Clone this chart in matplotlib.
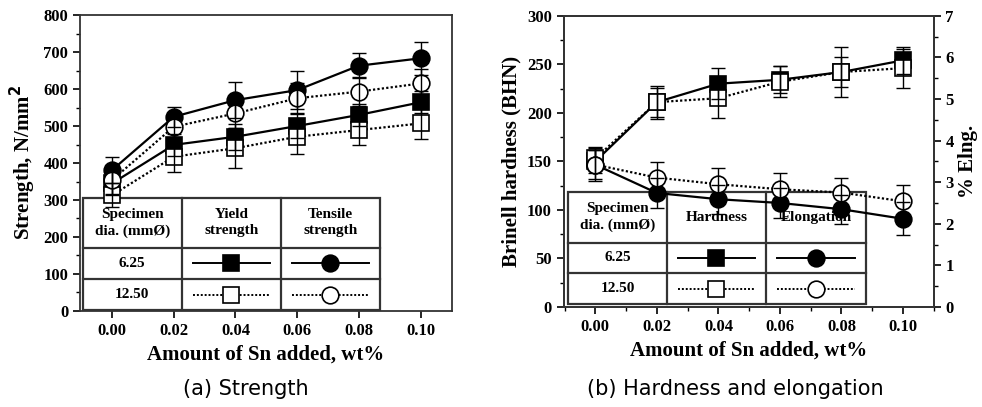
import matplotlib
matplotlib.use("Agg")
import matplotlib.pyplot as plt
import numpy as np
from matplotlib.lines import Line2D
from matplotlib.ticker import MultipleLocator

plt.rcParams['font.family'] = 'Liberation Serif'
plt.rcParams['font.weight'] = 'bold'

sn = [0.00, 0.02, 0.04, 0.06, 0.08, 0.10]

# (a) strength, N/mm2
ys_625 = [345, 449, 471, 500, 530, 564]
ys_625_err = [30, 30, 35, 32, 30, 30]
ys_1250 = [313, 417, 440, 471, 489, 507]
ys_1250_err = [33, 40, 54, 46, 40, 43]
ts_625 = [381, 525, 570, 597, 663, 683]
ts_625_err = [35, 27, 48, 52, 34, 45]
ts_1250 = [354, 498, 534, 575, 593, 615]
ts_1250_err = [40, 35, 40, 40, 40, 40]

# (b) hardness (BHN) and elongation (%)
hd_625 = [150, 211, 230, 234, 242, 254]
hd_625_err = [12, 15, 16, 14, 15, 14]
hd_1250 = [153, 211, 215, 232, 242, 246]
hd_1250_err = [12, 17, 20, 16, 26, 20]
el_625 = [3.42, 2.74, 2.59, 2.50, 2.35, 2.12]
el_625_err = [0.35, 0.35, 0.35, 0.35, 0.35, 0.40]
el_1250 = [3.42, 3.11, 2.95, 2.83, 2.75, 2.54]
el_1250_err = [0.40, 0.37, 0.38, 0.40, 0.35, 0.40]

fig = plt.figure(figsize=(9.82, 4.07), dpi=100)
ax1 = fig.add_axes([0.0815, 0.2359, 0.3788, 0.7272])
ax2 = fig.add_axes([0.574, 0.2457, 0.3768, 0.7157])
ax2r = ax2.twinx()

DOT = (0, (1, 1))
MS = 12


def series(ax, y, err, marker, filled, ls):
    fc = 'black' if filled else 'white'
    ax.plot(sn, y, color='black', lw=1.6, ls=ls, zorder=5)
    ax.plot(sn, y, ls='none', marker=marker, ms=MS, mfc=fc, mec='black', mew=1.2, zorder=6)
    ax.errorbar(sn, y, yerr=err, fmt='none', ecolor='black', elinewidth=1.0, capsize=5, capthick=1.0, zorder=7)


def table(ax, box, cols, rows, headers, sym):
    x0, x1, y0, y1 = box
    ax.add_patch(plt.Rectangle((x0, y0), x1 - x0, y1 - y0, transform=ax.transAxes,
                               facecolor='white', edgecolor='#333333', lw=1.6, zorder=3))
    for c in cols:
        ax.add_line(Line2D([c, c], [y0, y1], transform=ax.transAxes, color='#333333', lw=1.6, zorder=3))
    for r in rows:
        ax.add_line(Line2D([x0, x1], [r, r], transform=ax.transAxes, color='#333333', lw=1.6, zorder=3))
    xs = [x0] + cols + [x1]
    ys = [y1] + rows + [y0]
    for i, h in enumerate(headers):
        ax.text((xs[i] + xs[i + 1]) / 2, (ys[0] + ys[1]) / 2, h, transform=ax.transAxes,
                ha='center', va='center', fontsize=11, fontweight='bold', zorder=4, linespacing=1.3)
    for j, lab in enumerate(['6.25', '12.50']):
        yc = (ys[j + 1] + ys[j + 2]) / 2
        ax.text((xs[0] + xs[1]) / 2, yc, lab, transform=ax.transAxes,
                ha='center', va='center', fontsize=11, fontweight='bold', zorder=4)
        for k, m in enumerate(sym):
            xa, xb = xs[k + 1], xs[k + 2]
            w = xb - xa
            ls = '-' if j == 0 else DOT
            ax.add_line(Line2D([xa + 0.11 * w, xb - 0.11 * w], [yc, yc], transform=ax.transAxes,
                               color='black', lw=1.4, ls=ls, zorder=4))
            ax.add_line(Line2D([(xa + xb) / 2], [yc], transform=ax.transAxes, marker=m, ms=MS,
                               mfc='black' if j == 0 else 'white', mec='black', mew=1.2, zorder=4))


# panel (a)
table(ax1, (0.007, 0.806, 0.003, 0.382), [0.274, 0.540], [0.213, 0.108],
      ['Specimen\ndia. (mmØ)', 'Yield\nstrength', 'Tensile\nstrength'], ['s', 'o'])
series(ax1, ys_625, ys_625_err, 's', True, '-')
series(ax1, ys_1250, ys_1250_err, 's', False, DOT)
series(ax1, ts_625, ts_625_err, 'o', True, '-')
series(ax1, ts_1250, ts_1250_err, 'o', False, DOT)
ax1.set_xlim(-0.0104, 0.1102)
ax1.set_ylim(0, 800)
ax1.set_xticks(sn)
ax1.set_xticklabels(['%.2f' % v for v in sn])
ax1.yaxis.set_major_locator(MultipleLocator(100))
ax1.yaxis.set_minor_locator(MultipleLocator(50))
ax1.set_ylabel('Strength, N/mm$^\\mathbf{2}$', fontsize=15, fontweight='bold', labelpad=4)
ax1.set_xlabel('Amount of Sn added, wt%', fontsize=15, fontweight='bold', labelpad=4)

# panel (b)
table(ax2, (0.012, 0.817, 0.010, 0.396), [0.279, 0.547], [0.221, 0.116],
      ['Specimen\ndia. (mmØ)', 'Hardness', 'Elongation'], ['s', 'o'])
series(ax2, hd_625, hd_625_err, 's', True, '-')
series(ax2, hd_1250, hd_1250_err, 's', False, DOT)
ax2r.set_zorder(ax2.get_zorder() + 1)
ax2r.patch.set_visible(False)
series(ax2r, el_625, el_625_err, 'o', True, '-')
series(ax2r, el_1250, el_1250_err, 'o', False, DOT)
ax2.set_xlim(-0.0103, 0.110)
ax2.set_ylim(0, 300)
ax2r.set_ylim(0, 7)
ax2.set_xticks(sn)
ax2.set_xticklabels(['%.2f' % v for v in sn])
ax2.xaxis.set_minor_locator(MultipleLocator(0.01))
ax2.yaxis.set_major_locator(MultipleLocator(50))
ax2.yaxis.set_minor_locator(MultipleLocator(25))
ax2r.yaxis.set_major_locator(MultipleLocator(1))
ax2r.yaxis.set_minor_locator(MultipleLocator(0.5))
ax2.set_ylabel('Brinell hardness (BHN)', fontsize=15, fontweight='bold', labelpad=4)
ax2r.set_ylabel('% Elng.', fontsize=15, fontweight='bold', labelpad=3)
ax2.set_xlabel('Amount of Sn added, wt%', fontsize=15, fontweight='bold', labelpad=4)

for a in (ax1, ax2, ax2r):
    for s in a.spines.values():
        s.set_linewidth(1.3)
        s.set_color('#333333')
    a.tick_params(which='major', direction='out', length=5, width=1.2, labelsize=12)
    a.tick_params(which='minor', direction='out', length=3, width=1.0)
    for t in a.get_xticklabels() + a.get_yticklabels():
        t.set_fontweight('bold')

fig.text(0.2505, 0.045, '(a) Strength', ha='center', va='center', fontsize=15,
         family='DejaVu Sans', fontweight='normal')
fig.text(0.749, 0.045, '(b) Hardness and elongation', ha='center', va='center', fontsize=15,
         family='DejaVu Sans', fontweight='normal')

fig.savefig('out.png', dpi=100)
